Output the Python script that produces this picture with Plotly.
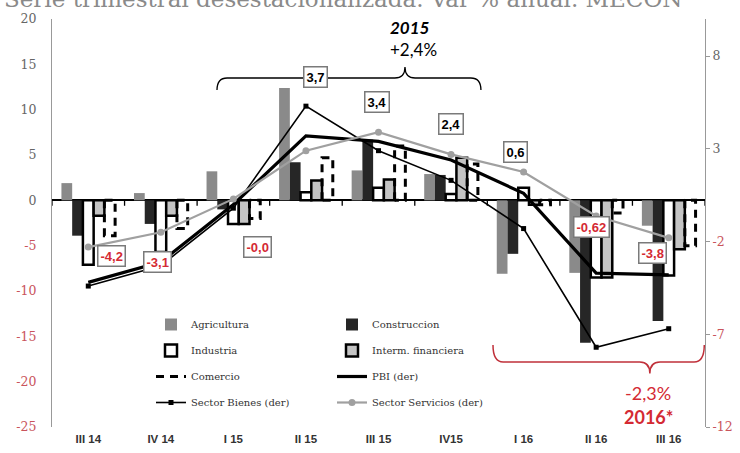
import plotly.graph_objects as go

# ---- data -------------------------------------------------------------
quarters = ["III 14", "IV 14", "I 15", "II 15", "III 15", "IV15", "I 16", "II 16", "III 16"]

agricultura = [1.9, 0.8, 3.2, 12.4, 3.3, 2.9, -8.1, -8.0, -2.8]
construccion = [-3.9, -2.6, -1.0, 4.2, 6.7, 2.8, -5.9, -15.7, -13.3]
industria = [-7.1, -5.7, -2.6, 0.9, 1.4, 0.7, 1.4, -8.5, -8.3]
interm_financiera = [-1.7, -1.7, -2.6, 2.2, 2.3, 4.7, -0.5, -8.5, -5.4]
comercio = [-3.9, -3.1, -2.0, 4.7, 6.0, 4.0, -0.5, -1.4, -5.0]

pbi = [-4.2, -3.1, -0.0, 3.7, 3.4, 2.4, 0.6, -3.7, -3.8]
sector_bienes = [-4.4, -3.3, -0.2, 5.3, 2.9, 1.3, -1.3, -7.7, -6.7]
sector_servicios = [-2.3, -1.5, 0.3, 2.9, 3.9, 2.7, 1.75, -0.62, -1.8]

left_ticks = [20, 15, 10, 5, 0, -5, -10, -15, -20, -25]
right_ticks = [8, 3, -2, -7, -12]

# value callouts: (series, quarter index, text, x shift px, y shift px)
callouts = [
    ("pbi", 0, "-4,2", 23, 26),
    ("pbi", 1, "-3,1", -3, 0),
    ("pbi", 2, "-0,0", 24, -43),
    ("pbi", 3, "3,7", 10, 59),
    ("pbi", 4, "3,4", -2, 39),
    ("pbi", 5, "2,4", 0, 36),
    ("pbi", 6, "0,6", -8, 41),
    ("servicios", 7, "-0,62", -5, -11),
    ("pbi", 8, "-3,8", -16, 22),
]

# ---- styling ----------------------------------------------------------
NEG = "#c9545c"
POS = "#666666"
RED = "#d42a33"
BAR_W = 0.148
OFFSETS = [-0.37, -0.222, -0.074, 0.074, 0.222]
SERIF = "DejaVu Serif"
SANS = "Liberation Sans"

# plot-area frame in pixels, used to place free-floating texts
L, R, T, B = 52, 705, 19, 427


def px(x, y):
    return (x - L) / (R - L), (B - y) / (B - T)


xs = list(range(len(quarters)))

fig = go.Figure()

fig.add_trace(go.Bar(x=xs, y=agricultura, name="Agricultura", width=BAR_W, offset=OFFSETS[0],
                     marker=dict(color="#8a8a8a", line=dict(width=0)), legend="legend", legendgroup="a"))
fig.add_trace(go.Bar(x=xs, y=construccion, name="Construccion", width=BAR_W, offset=OFFSETS[1],
                     marker=dict(color="#262626", line=dict(width=0)), legend="legend2", legendgroup="b"))
fig.add_trace(go.Bar(x=xs, y=industria, name="Industria", width=BAR_W, offset=OFFSETS[2],
                     marker=dict(color="white", line=dict(color="black", width=2.5)),
                     legend="legend", legendgroup="c"))
fig.add_trace(go.Bar(x=xs, y=interm_financiera, name="Interm. financiera", width=BAR_W, offset=OFFSETS[3],
                     marker=dict(color="#c4c4c4", line=dict(color="black", width=2.5)),
                     legend="legend2", legendgroup="d"))

# Comercio: dashed outline bars, traced as closed rectangles on the data scale
cx, cy = [], []
for i, v in enumerate(comercio):
    x0 = i + OFFSETS[4]
    x1 = x0 + BAR_W
    cx += [x0, x0, x1, x1, x0, None]
    cy += [0, v, v, 0, 0, None]
fig.add_trace(go.Scatter(x=cx, y=cy, mode="lines", name="Comercio",
                         line=dict(color="black", width=3, dash="8px,6px"),
                         legend="legend", legendgroup="e"))

fig.add_trace(go.Scatter(x=xs, y=pbi, name="PBI (der)", yaxis="y2", mode="lines",
                         line=dict(color="black", width=3.2), legend="legend2", legendgroup="f"))
fig.add_trace(go.Scatter(x=xs, y=sector_bienes, name="Sector Bienes (der)", yaxis="y2",
                         mode="lines+markers", line=dict(color="black", width=1.6),
                         marker=dict(symbol="square", size=5, color="black"),
                         legend="legend", legendgroup="g"))
fig.add_trace(go.Scatter(x=xs, y=sector_servicios, name="Sector Servicios (der)", yaxis="y2",
                         mode="lines+markers", line=dict(color="#a0a0a0", width=2.2),
                         marker=dict(symbol="circle", size=7, color="#a0a0a0"),
                         legend="legend2", legendgroup="h"))

# ---- callout boxes -----------------------------------------------------
series_map = {"pbi": pbi, "servicios": sector_servicios}
annotations = []
for key, i, txt, dx, dy in callouts:
    val = series_map[key][i]
    annotations.append(dict(
        x=i, y=val, xref="x", yref="y2", text=f"<b>{txt}</b>", showarrow=False,
        xanchor="center", yanchor="middle",
        xshift=dx, yshift=dy, bgcolor="white", bordercolor="#7a7a7a", borderwidth=1.5, borderpad=2,
        font=dict(family=SANS, size=13, color=RED if txt.startswith("-") else "black"),
    ))


def free_text(x, y, text, font, xanchor="center"):
    fx, fy = px(x, y)
    return dict(x=fx, y=fy, xref="paper", yref="paper", showarrow=False, text=text,
                xanchor=xanchor, yanchor="middle", font=font)


annotations += [
    free_text(410, 27, "<b><i>2015</i></b>", dict(family="Lato", size=17, color="black")),
    free_text(413, 50, "+2,4%", dict(family="Lato", size=17, color="black")),
    free_text(648, 393, "-2,3%", dict(family="Lato", size=18, color=RED)),
    free_text(648, 417, "<b>2016*</b>", dict(family="Lato", size=18, color=RED)),
    free_text(2, -1, "Serie trimestral desestacionalizada. Var % anual. MECON",
              dict(family=SERIF, size=23, color="#8a8a8a"), xanchor="left"),
]


def brace(x0, x1, xm, yb, yend, ytip, rx):
    return (f"M {x0},{yend} Q {x0},{yb} {x0 + rx},{yb} L {xm - rx},{yb} "
            f"Q {xm},{yb} {xm},{ytip} Q {xm},{yb} {xm + rx},{yb} "
            f"L {x1 - rx},{yb} Q {x1},{yb} {x1},{yend}")


shapes = [
    dict(type="path", xref="x", yref="y", path=brace(1.774, 5.412, 4.365, 13.49, 12.16, 14.7, 0.14),
         line=dict(color="black", width=1.3)),
    dict(type="path", xref="x", yref="y", path=brace(5.578, 8.49, 7.74, -17.83, -15.96, -19.1, 0.14),
         line=dict(color="#c0303a", width=1.5)),
]
# category separators on the zero line
for k in range(len(quarters) + 1):
    shapes.append(dict(type="line", xref="x", yref="y", x0=k - 0.5, x1=k - 0.5, y0=0, y1=-0.6,
                       line=dict(color="black", width=1.3)))


def tick_text(vals):
    return [f'<span style="color:{NEG if v < 0 else POS}">{v}</span>' for v in vals]


legend_style = dict(bgcolor="rgba(0,0,0,0)", font=dict(family=SERIF, size=10, color="#333333"),
                    tracegroupgap=7, itemwidth=30, yanchor="top", xanchor="left")
lx1, ly = px(151, 310)
lx2, _ = px(332, 310)

fig.update_layout(
    width=740, height=453,
    margin=dict(l=L, r=740 - R, t=T, b=453 - B),
    paper_bgcolor="white", plot_bgcolor="white",
    barmode="overlay",
    showlegend=True,
    legend=dict(x=lx1, y=ly, **legend_style),
    legend2=dict(x=lx2, y=ly, **legend_style),
    xaxis=dict(range=[-0.5, 8.5], tickvals=xs, ticktext=[f"<b>{q}</b>" for q in quarters],
               showgrid=False, zeroline=False, showline=False, ticks="", ticklabelstandoff=3,
               automargin=False,
               tickfont=dict(family=SANS, size=11.5, color="#333333")),
    yaxis=dict(range=[-25, 20], tickvals=left_ticks, ticktext=tick_text(left_ticks),
               showgrid=False, zeroline=True, zerolinecolor="black", zerolinewidth=2.2,
               showline=True, linecolor="#999999", linewidth=1, ticks="", ticklabelstandoff=12,
               automargin=False, tickfont=dict(family=SERIF, size=12.5)),
    yaxis2=dict(range=[-12, 10], tickvals=right_ticks, ticktext=tick_text(right_ticks),
                overlaying="y", side="right", showgrid=False, zeroline=False,
                showline=True, linecolor="#999999", linewidth=1, ticks="outside", ticklen=4,
                automargin=False, tickcolor="#999999", tickfont=dict(family=SERIF, size=12.5)),
    annotations=annotations,
    shapes=shapes,
)

fig.write_html("out.html")
